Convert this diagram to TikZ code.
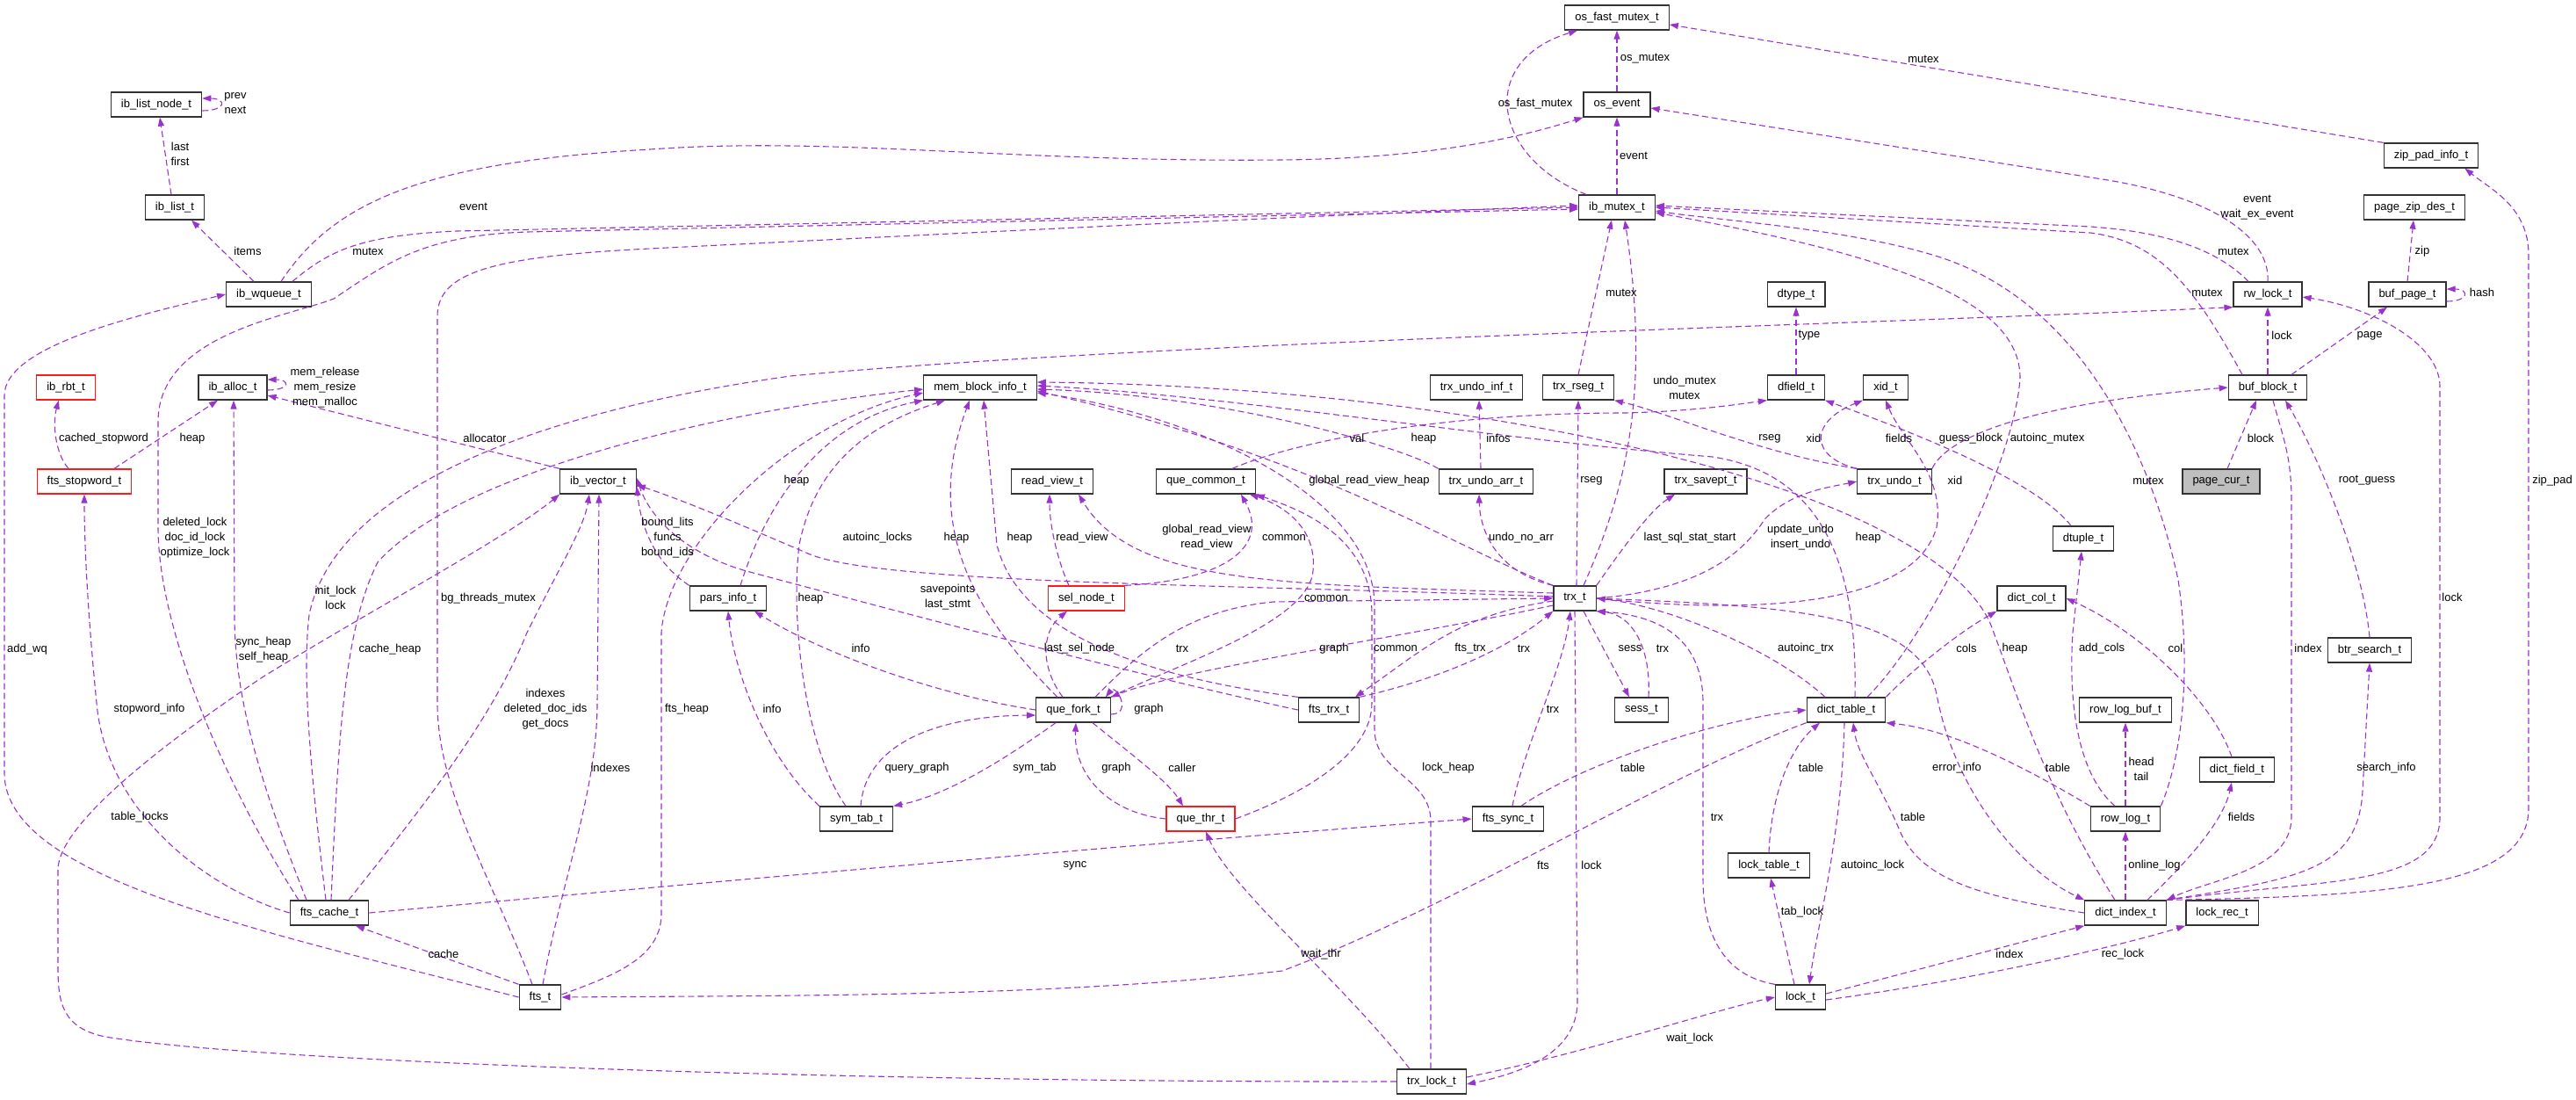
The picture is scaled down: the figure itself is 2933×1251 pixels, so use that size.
\documentclass[tikz,border=0pt]{standalone}
\usepackage{fontspec}
\setmainfont{Liberation Sans}
\usetikzlibrary{arrows.meta}
\definecolor{depline}{HTML}{9A32CD}

\begin{document}
\begin{tikzpicture}[
    x=1pt, y=-1pt,
    >={Triangle[length=10pt,width=7pt]},
    cls/.style={draw=black!80, line width=1.3pt, fill=white, minimum height=28pt, inner xsep=11.5pt, inner ysep=0pt, font=\fontsize{13}{16}\selectfont},
    hl/.style={cls, draw=red!90},
    root/.style={cls, fill=gray!50},
    dep/.style={->, draw=depline, line width=1.1pt, dash pattern=on 7pt off 4pt},
    lbl/.style={font=\fontsize{13}{17}\selectfont, inner sep=0pt, align=center},
]
\fill[white] (0,0) rectangle (2933,1251);
% === Classes ===
\node[cls] (lnode) at (178,119) {ib\_list\_node\_t};
\node[cls] (list) at (199,236) {ib\_list\_t};
\node[cls] (wq) at (306,335) {ib\_wqueue\_t};
\node[cls] (osfm) at (1841,20) {os\_fast\_mutex\_t};
\node[cls] (osev) at (1841,119) {os\_event};
\node[cls] (mtx) at (1841,236) {ib\_mutex\_t};
\node[cls] (dtype) at (2045,335) {dtype\_t};
\node[cls] (zpi) at (2768,177) {zip\_pad\_info\_t};
\node[cls] (pzd) at (2749,236) {page\_zip\_des\_t};
\node[cls] (rwl) at (2582,335) {rw\_lock\_t};
\node[cls] (bpage) at (2741,335) {buf\_page\_t};
\node[hl] (rbt) at (75,441) {ib\_rbt\_t};
\node[cls] (alloc) at (265,441) {ib\_alloc\_t};
\node[hl] (stop) at (96,548) {fts\_stopword\_t};
\node[cls] (vec) at (681,548) {ib\_vector\_t};
\node[cls] (mbi) at (1116,441) {mem\_block\_info\_t};
\node[cls] (rview) at (1198,548) {read\_view\_t};
\node[cls] (qcom) at (1373,548) {que\_common\_t};
\node[cls] (pinfo) at (829,681) {pars\_info\_t};
\node[hl] (sel) at (1237,681) {sel\_node\_t};
\node[cls] (qfork) at (1222,808) {que\_fork\_t};
\node[cls] (uinf) at (1681,441) {trx\_undo\_inf\_t};
\node[cls] (rseg) at (1797,441) {trx\_rseg\_t};
\node[cls] (dfield) at (2045,441) {dfield\_t};
\node[cls] (xid) at (2147,441) {xid\_t};
\node[cls] (uarr) at (1692,548) {trx\_undo\_arr\_t};
\node[cls] (savept) at (1942,548) {trx\_savept\_t};
\node[cls] (undo) at (2157,548) {trx\_undo\_t};
\node[cls] (trx) at (1793,681) {trx\_t};
\node[cls] (ftrx) at (1513,808) {fts\_trx\_t};
\node[cls] (sess) at (1869,808) {sess\_t};
\node[cls] (table) at (2102,808) {dict\_table\_t};
\node[cls] (block) at (2582,441) {buf\_block\_t};
\node[root] (pcur) at (2529,548) {page\_cur\_t};
\node[cls] (dtuple) at (2372,613) {dtuple\_t};
\node[cls] (dcol) at (2313,681) {dict\_col\_t};
\node[cls] (bsearch) at (2698,740) {btr\_search\_t};
\node[cls] (rlbuf) at (2420,808) {row\_log\_buf\_t};
\node[cls] (cache) at (375,1039) {fts\_cache\_t};
\node[cls] (fts) at (615,1135) {fts\_t};
\node[cls] (symtab) at (975,932) {sym\_tab\_t};
\node[hl] (qthr) at (1367,932) {que\_thr\_t};
\node[cls] (fsync) at (1717,932) {fts\_sync\_t};
\node[cls] (ltable) at (2014,985) {lock\_table\_t};
\node[cls] (lock) at (2050,1135) {lock\_t};
\node[cls] (tlock) at (1630,1231) {trx\_lock\_t};
\node[cls] (rlog) at (2420,932) {row\_log\_t};
\node[cls] (dfld) at (2547,876) {dict\_field\_t};
\node[cls] (index) at (2420,1039) {dict\_index\_t};
\node[cls] (lrec) at (2530,1039) {lock\_rec\_t};
% === Top: lists, queue, mutexes ===
\draw[dep] ([yshift=-7pt]lnode.east) .. controls +(28,0) and +(28,0) .. ([yshift=7pt]lnode.east);
\draw[dep] ([xshift=-4pt]list.north) -- ([xshift=4pt]lnode.south);
\draw[dep] ([xshift=-17pt]wq.north) -- ([xshift=19pt]list.south);
\draw[dep] ([xshift=14pt]wq.north) .. controls (380,230) and (480,185) .. (740,170) .. controls (950,155) and (1150,185) .. (1460,182) .. controls (1650,180) and (1750,150) .. (osev.south west);
\draw[dep] ([xshift=27pt]wq.north) .. controls (375,285) and (410,268) .. (520,263) -- (mtx.west);
\draw[dep] (mtx) -- (osev);
\draw[dep] (osev) -- (osfm);
\draw[dep] ([xshift=-35pt]mtx.north) .. controls (1700,180) and (1680,70) .. ([xshift=-45pt]osfm.south);
\draw[dep] (zpi.north west) -- ([yshift=-8pt]osfm.east);
\draw[dep] (rwl.north) .. controls (2585,270) and (2520,225) .. (2400,205) -- ([yshift=-4pt]osev.east);
\draw[dep] ([xshift=-22pt]rwl.north) .. controls (2530,290) and (2480,265) .. (2380,258) -- ([yshift=2pt]mtx.east);
\draw[dep] ([xshift=-29pt]block.north) .. controls (2500,330) and (2460,275) .. (2380,265) -- (mtx.east);
\draw[dep] (bpage.north) -- ([xshift=-1pt]pzd.south);
\draw[dep] ([yshift=-8pt]bpage.east) .. controls +(26,0) and +(26,0) .. ([yshift=6pt]bpage.east);
\draw[dep] (block) -- (rwl);
\draw[dep] ([xshift=27pt]block.north) -- ([xshift=-23pt]bpage.south);
\draw[dep] ([xshift=7pt]pcur.north) -- ([xshift=-13pt]block.south);
\draw[dep] (bsearch.north) .. controls (2690,640) and (2640,520) .. ([xshift=20pt]block.south);
\draw[dep] ([xshift=6pt]block.south) .. controls (2600,500) and (2609,520) .. (2609,570) -- (2609,930) .. controls (2609,990) and (2520,1000) .. (index.north east);
% === dict_index_t ===
\draw[dep] (index.north east) .. controls (2650,1000) and (2778,1010) .. (2778,930) -- (2778,440) .. controls (2778,390) and (2700,350) .. ([yshift=-3pt]rwl.east);
\draw[dep] (index.north east) .. controls (2720,1020) and (2879,1010) .. (2879,920) -- (2879,290) .. controls (2879,235) and (2835,215) .. ([xshift=-16pt]zpi.south east);
\draw[dep] (index.north east) .. controls (2620,1000) and (2685,990) .. (2690,900) -- (bsearch.south);
\draw[dep] ([xshift=25pt]index.north) .. controls (2480,990) and (2530,940) .. ([xshift=-6pt]dfld.south);
\draw[dep] (index) -- (rlog);
\draw[dep] (index.west) .. controls (2250,1020) and (2190,1000) .. (2165,950) .. controls (2140,890) and (2115,860) .. ([xshift=8pt]table.south);
\draw[dep] ([xshift=-12pt]index.north) .. controls (2330,900) and (2300,800) .. (2270,720) .. controls (2220,560) and (1700,440) .. ([yshift=6pt]mbi.east);
\draw[dep] (trx.east) .. controls (2050,690) and (2185,700) .. (2205,790) .. controls (2225,900) and (2300,990) .. (index.north west);
% === row_log_t, dict_field_t, lock_t ===
\draw[dep] (rlog) -- (rlbuf);
\draw[dep] ([xshift=-12pt]rlog.north) .. controls (2365,880) and (2355,800) .. (2360,720) -- ([xshift=-2pt]dtuple.south);
\draw[dep] (rlog.north west) .. controls (2300,870) and (2220,830) .. (table.south east);
\draw[dep] (rlog.north east) .. controls (2485,860) and (2495,760) .. (2480,660) .. controls (2450,520) and (2370,340) .. (2200,290) .. controls (2100,260) and (1950,250) .. ([yshift=-4pt]mtx.east);
\draw[dep] ([xshift=-6pt]dfld.north) .. controls (2520,800) and (2440,720) .. (dcol.east);
\draw[dep] ([yshift=4pt]lock.east) -- (index.south west);
\draw[dep] ([yshift=-3pt]lock.east) .. controls (2250,1115) and (2420,1075) .. (lrec.south west);
\draw[dep] ([yshift=5pt]tlock.east) .. controls (1800,1200) and (1950,1150) .. (lock.west);
\draw[dep] (trx.south) -- (1796,1140) .. controls (1796,1195) and (1740,1220) .. ([yshift=-3pt]tlock.east);
\draw[dep] ([xshift=-25pt]tlock.north) .. controls (1530,1120) and (1400,1010) .. ([xshift=6pt]qthr.south);
\draw[dep] ([xshift=-1pt]tlock.north) -- (1629,935) .. controls (1629,885) and (1565,880) .. (1565,830) -- (1565,690) .. controls (1565,560) and (1350,470) .. ([yshift=-6pt]mbi.east);
\draw[dep] (tlock.west) .. controls (1000,1232) and (300,1210) .. (120,1180) .. controls (70,1170) and (66,1140) .. (66,1100) -- (66,990) .. controls (66,940) and (180,850) .. (300,770) .. controls (430,690) and (580,610) .. (vec.south west);
\draw[dep] (lock.north west) .. controls (1960,1110) and (1939,1060) .. (1939,1000) -- (1939,800) .. controls (1939,720) and (1880,700) .. (trx.south east);
\draw[dep] ([xshift=-7pt]lock.north) -- ([xshift=2pt]ltable.south);
\draw[dep] (ltable.north) .. controls (2017,900) and (2040,850) .. ([xshift=-30pt]table.south);
% === dict_table_t ===
\draw[dep] ([xshift=-2pt]table.south) .. controls (2097,950) and (2070,1050) .. ([xshift=10pt]lock.north);
\draw[dep] (table.south west) .. controls (1900,880) and (1660,1030) .. (1460,1105) .. controls (1200,1135) and (900,1133) .. (fts.east);
\draw[dep] ([xshift=15pt]fsync.north) .. controls (1800,870) and (1950,820) .. (table.west);
\draw[dep] ([xshift=5pt]fsync.north) .. controls (1735,850) and (1780,760) .. ([xshift=-5pt]trx.south);
\draw[dep] ([xshift=-24pt]table.north) .. controls (2020,740) and (1900,690) .. (trx.east);
\draw[dep] ([xshift=24pt]table.north) .. controls (2200,720) and (2295,520) .. (2300,430) .. controls (2300,340) and (2150,290) .. ([yshift=-6pt]mtx.east);
\draw[dep] ([xshift=10pt]table.north) .. controls (2115,650) and (2080,540) .. (1950,520) .. controls (1700,500) and (1400,450) .. ([yshift=2pt]mbi.east);
\draw[dep] (table.north east) .. controls (2180,760) and (2230,720) .. (dcol.south west);
% === trx_undo_t, dtuple_t, dfield_t ===
\draw[dep] (undo.north west) .. controls (2000,515) and (1900,470) .. (rseg.south east);
\draw[dep] (undo.north west) .. controls (2060,520) and (2060,480) .. (xid.south west);
\draw[dep] (trx.east) .. controls (2000,700) and (2180,690) .. (2205,600) .. controls (2215,540) and (2165,500) .. (xid.south);
\draw[dep] (undo.north east) .. controls (2215,500) and (2300,460) .. (block.west);
\draw[dep] ([xshift=-14pt]dtuple.north) .. controls (2320,550) and (2200,500) .. (dfield.south east);
\draw[dep] (dfield) -- (dtype);
\draw[dep] ([xshift=30pt]qcom.north) .. controls (1480,500) and (1650,470) .. (1850,470) .. controls (1930,468) and (1980,460) .. (dfield.south west);
% === trx_t ===
\draw[dep] (trx.east) .. controls (1950,670) and (1990,620) .. (2010,590) .. controls (2040,560) and (2080,555) .. (undo.west);
\draw[dep] (trx.north east) .. controls (1850,620) and (1880,580) .. ([xshift=-35pt]savept.south);
\draw[dep] ([xshift=2pt]trx.north) -- (rseg.south);
\draw[dep] (rseg.north) -- ([xshift=-6pt]mtx.south);
\draw[dep] ([xshift=10pt]trx.north) .. controls (1850,560) and (1880,450) .. ([xshift=9pt]mtx.south);
\draw[dep] (trx.north west) .. controls (1700,650) and (1685,600) .. ([xshift=-8pt]uarr.south);
\draw[dep] ([xshift=-6pt]uarr.north) -- ([xshift=3pt]uinf.south);
\draw[dep] (uarr.north west) .. controls (1600,510) and (1400,450) .. ([yshift=-2pt]mbi.east);
\draw[dep] (trx.north west) .. controls (1650,620) and (1500,520) .. ([yshift=-4pt]mbi.east);
\draw[dep] ([yshift=-3pt]trx.west) .. controls (1660,700) and (1620,740) .. ([xshift=30pt]ftrx.north);
\draw[dep] (ftrx.north east) .. controls (1650,770) and (1720,735) .. (trx.south west);
\draw[dep] ([xshift=10pt]trx.south) -- ([xshift=-14pt]sess.north);
\draw[dep] ([xshift=8pt]sess.north) .. controls (1880,740) and (1860,700) .. (trx.south east);
\draw[dep] ([xshift=25pt]qfork.north) .. controls (1300,740) and (1350,695) .. (1450,685) -- (trx.west);
\draw[dep] ([yshift=-8pt]trx.west) .. controls (1600,725) and (1350,760) .. (qfork.north east);
\draw[dep] ([yshift=2pt]trx.west) .. controls (1400,665) and (1000,665) .. (920,630) .. controls (850,600) and (780,570) .. ([yshift=-4pt]vec.east);
\draw[dep] ([yshift=6pt]trx.west) .. controls (1450,665) and (1290,665) .. ([xshift=30pt]rview.south);
\draw[dep] (ftrx.west) .. controls (1300,770) and (1000,690) .. (850,650) .. controls (780,630) and (740,590) .. ([yshift=4pt]vec.east);
\draw[dep] (ftrx.north west) .. controls (1300,770) and (1160,720) .. (1135,620) -- ([xshift=4pt]mbi.south);
% === query graph ===
\draw[dep] ([xshift=-20pt]sel.north) .. controls (1205,640) and (1195,600) .. ([xshift=-3pt]rview.south);
\draw[dep] (sel.north east) .. controls (1400,660) and (1445,620) .. ([xshift=40pt]qcom.south);
\draw[dep] (qthr.east) .. controls (1480,905) and (1562,860) .. (1562,800) -- (1562,700) .. controls (1562,610) and (1480,580) .. (qcom.south east);
\draw[dep] (qfork.north east) .. controls (1330,760) and (1490,710) .. (1495,650) .. controls (1500,600) and (1460,575) .. ([xshift=50pt]qcom.south);
\draw[dep] ([yshift=-5pt]qfork.east) .. controls +(25,0) and +(12,-15) .. ([xshift=-6pt]qfork.north east);
\draw[dep] (qfork.west) .. controls (1060,790) and (930,740) .. ([xshift=30pt]pinfo.south);
\draw[dep] ([xshift=-12pt]qfork.north) .. controls (1185,760) and (1185,720) .. ([xshift=-22pt]sel.south);
\draw[dep] ([xshift=-18pt]qfork.north) .. controls (1110,700) and (1050,600) .. ([xshift=-12pt]mbi.south);
\draw[dep] ([xshift=-12pt]symtab.north) .. controls (915,850) and (900,700) .. (910,620) .. controls (930,520) and (1000,480) .. ([xshift=-40pt]mbi.south);
\draw[dep] (symtab.north west) .. controls (870,860) and (835,760) .. (pinfo.south);
\draw[dep] ([xshift=5pt]symtab.north) .. controls (985,850) and (1060,815) .. ([yshift=-6pt]qfork.west);
\draw[dep] ([xshift=-20pt]qfork.south) .. controls (1150,860) and (1080,905) .. (symtab.north east);
\draw[dep] (qthr.west) .. controls (1260,925) and (1222,880) .. ([xshift=3pt]qfork.south);
\draw[dep] ([xshift=22pt]qfork.south) .. controls (1290,860) and (1330,890) .. ([xshift=-20pt]qthr.north);
\draw[dep] ([xshift=14pt]pinfo.north) .. controls (870,580) and (930,480) .. (mbi.south west);
\draw[dep] (pinfo.north west) .. controls (745,640) and (730,600) .. ([yshift=-6pt]vec.east);
% === Left: fts, allocators ===
\draw[dep] ([xshift=-18pt]stop.north) .. controls (62,515) and (60,480) .. ([xshift=-8pt]rbt.south);
\draw[dep] ([xshift=34pt]stop.north) -- ([xshift=-17pt]alloc.south);
\draw[dep] ([yshift=-3pt]alloc.east) .. controls +(26,0) and +(26,0) .. ([yshift=9pt]alloc.east);
\draw[dep] (vec.north west) -- ([yshift=-9pt]alloc.east);
\draw[dep] (cache.west) .. controls (230,1010) and (120,920) .. (110,800) .. controls (100,700) and (96,620) .. (stop.south);
\draw[dep] ([xshift=-26pt]cache.north) .. controls (300,900) and (267,800) .. (267,700) -- ([xshift=1pt]alloc.south);
\draw[dep] ([xshift=-35pt]cache.north) .. controls (260,900) and (180,720) .. (180,600) -- (180,480) .. controls (180,380) and (330,360) .. (380,340) .. controls (440,300) and (480,268) .. (600,264) -- ([yshift=-2pt]mtx.west);
\draw[dep] ([xshift=-4pt]cache.north) .. controls (350,850) and (345,760) .. (352,700) .. controls (380,560) and (600,470) .. (900,428) .. controls (1300,390) and (2100,370) .. (rwl.south west);
\draw[dep] ([xshift=2pt]cache.north) .. controls (385,850) and (390,720) .. (430,640) .. controls (520,540) and (800,470) .. ([yshift=-2pt]mbi.west);
\draw[dep] ([xshift=22pt]cache.north) .. controls (480,920) and (560,820) .. (600,720) .. controls (640,640) and (665,600) .. ([xshift=-10pt]vec.south);
\draw[dep] (cache.east) .. controls (800,1005) and (1300,960) .. (fsync.west);
\draw[dep] (fts.north west) -- ([xshift=30pt]cache.south);
\draw[dep] ([xshift=3pt]fts.north) .. controls (640,1000) and (680,900) .. (680,800) -- ([xshift=1pt]vec.south);
\draw[dep] ([xshift=-9pt]fts.north) .. controls (560,1000) and (498,900) .. (498,800) -- (498,360) .. controls (498,310) and (560,292) .. (740,283) .. controls (1100,265) and (1500,245) .. ([yshift=2pt]mtx.west);
\draw[dep] (fts.west) .. controls (300,1060) and (5,1000) .. (5,880) -- (5,450) .. controls (5,395) and (150,360) .. (wq.west);
\draw[dep] ([yshift=3pt]fts.east) .. controls (700,1110) and (753,1090) .. (753,1040) -- (753,720) .. controls (760,620) and (900,480) .. ([yshift=-6pt]mbi.west);
% === Labels ===
\node[lbl] (l-prevnext) at (268,118) {prev\\next};
\node[lbl] (l-lastfirst) at (205,175) {last\\first};
\node[lbl] (l-items) at (282,286) {items};
\node[lbl] (l-wqevent) at (539,235) {event};
\node[lbl] (l-wqmutex) at (419,286) {mutex};
\node[lbl] (l-osmutex) at (1873,67) {os\_mutex};
\node[lbl] (l-osfast) at (1748,118) {os\_fast\_mutex};
\node[lbl] (l-mtxevent) at (1860,177) {event};
\node[lbl] (l-zpimutex) at (2190,67) {mutex};
\node[lbl] (l-rwlevent) at (2570,236) {event\\wait\_ex\_event};
\node[lbl] (l-rwlmutex) at (2543,286) {mutex};
\node[lbl] (l-zip) at (2758,286) {zip};
\node[lbl] (l-hash) at (2826,333) {hash};
\node[lbl] (l-blocklock) at (2598,382) {lock};
\node[lbl] (l-page) at (2698,382) {page};
\node[lbl] (l-blockmutex) at (2513,333) {mutex};
\node[lbl] (l-rsegmutex) at (1846,333) {mutex};
\node[lbl] (l-type) at (2060,382) {type};
\node[lbl] (l-zippad) at (2906,547) {zip\_pad};
\node[lbl] (l-memops) at (370,441) {mem\_release\\mem\_resize\\mem\_malloc};
\node[lbl] (l-cachedstop) at (118,499) {cached\_stopword};
\node[lbl] (l-stopheap) at (219,499) {heap};
\node[lbl] (l-allocator) at (552,499) {allocator};
\node[lbl] (l-pinfoheap) at (907,547) {heap};
\node[lbl] (l-val) at (1545,499) {val};
\node[lbl] (l-uarrheap) at (1621,499) {heap};
\node[lbl] (l-infos) at (1706,499) {infos};
\node[lbl] (l-undomutex) at (1918,441) {undo\_mutex\\mutex};
\node[lbl] (l-undorseg) at (2015,499) {rseg};
\node[lbl] (l-undoxid) at (2065,499) {xid};
\node[lbl] (l-tuplefields) at (2162,499) {fields};
\node[lbl] (l-guess) at (2244,499) {guess\_block};
\node[lbl] (l-autoincmutex) at (2331,499) {autoinc\_mutex};
\node[lbl] (l-block) at (2574,499) {block};
\node[lbl] (l-grvheap) at (1559,547) {global\_read\_view\_heap};
\node[lbl] (l-trxrseg) at (1812,547) {rseg};
\node[lbl] (l-trxxid) at (2226,547) {xid};
\node[lbl] (l-rlogmutex) at (2446,547) {mutex};
\node[lbl] (l-rootguess) at (2695,547) {root\_guess};
\node[lbl] (l-cachelocks) at (222,612) {deleted\_lock\\doc\_id\_lock\\optimize\_lock};
\node[lbl] (l-bound) at (760,612) {bound\_lits\\funcs\\bound\_ids};
\node[lbl] (l-autoinclocks) at (999,612) {autoinc\_locks};
\node[lbl] (l-forkheap) at (1089,612) {heap};
\node[lbl] (l-ftrxheap) at (1161,612) {heap};
\node[lbl] (l-selview) at (1232,612) {read\_view};
\node[lbl] (l-trxview) at (1374,612) {global\_read\_view\\read\_view};
\node[lbl] (l-selcommon) at (1462,612) {common};
\node[lbl] (l-undonoarr) at (1732,612) {undo\_no\_arr};
\node[lbl] (l-lastsql) at (1924,612) {last\_sql\_stat\_start};
\node[lbl] (l-undos) at (2050,612) {update\_undo\\insert\_undo};
\node[lbl] (l-tableheap) at (2127,612) {heap};
\node[lbl] (l-initlock) at (382,680) {init\_lock\\lock};
\node[lbl] (l-bgmutex) at (556,681) {bg\_threads\_mutex};
\node[lbl] (l-symheap) at (923,681) {heap};
\node[lbl] (l-savepoints) at (1079,680) {savepoints\\last\_stmt};
\node[lbl] (l-forkcommon) at (1510,681) {common};
\node[lbl] (l-indexlock) at (2792,680) {lock};
\node[lbl] (l-addwq) at (31,739) {add\_wq};
\node[lbl] (l-syncheap) at (300,740) {sync\_heap\\self\_heap};
\node[lbl] (l-cacheheap) at (444,739) {cache\_heap};
\node[lbl] (l-forkinfo) at (980,738) {info};
\node[lbl] (l-lastsel) at (1229,738) {last\_sel\_node};
\node[lbl] (l-forktrx) at (1346,738) {trx};
\node[lbl] (l-trxgraph) at (1519,738) {graph};
\node[lbl] (l-thrcommon) at (1589,738) {common};
\node[lbl] (l-ftstrx) at (1674,738) {fts\_trx};
\node[lbl] (l-ftrxtrx) at (1735,738) {trx};
\node[lbl] (l-sess) at (1856,738) {sess};
\node[lbl] (l-sesstrx) at (1893,738) {trx};
\node[lbl] (l-autoinctrx) at (2056,738) {autoinc\_trx};
\node[lbl] (l-cols) at (2239,738) {cols};
\node[lbl] (l-indexheap) at (2294,738) {heap};
\node[lbl] (l-addcols) at (2393,738) {add\_cols};
\node[lbl] (l-col) at (2477,738) {col};
\node[lbl] (l-blockindex) at (2628,738) {index};
\node[lbl] (l-cachevecs) at (621,807) {indexes\\deleted\_doc\_ids\\get\_docs};
\node[lbl] (l-stopinfo) at (170,807) {stopword\_info};
\node[lbl] (l-ftsheap) at (782,807) {fts\_heap};
\node[lbl] (l-syminfo) at (879,807) {info};
\node[lbl] (l-forkgraph) at (1308,807) {graph};
\node[lbl] (l-synctrx) at (1768,807) {trx};
\node[lbl] (l-querygraph) at (1044,874) {query\_graph};
\node[lbl] (l-symtab) at (1178,874) {sym\_tab};
\node[lbl] (l-thrgraph) at (1271,874) {graph};
\node[lbl] (l-caller) at (1346,874) {caller};
\node[lbl] (l-lockheap) at (1649,874) {lock\_heap};
\node[lbl] (l-synctable) at (1859,874) {table};
\node[lbl] (l-ltable) at (2062,874) {table};
\node[lbl] (l-errorinfo) at (2228,874) {error\_info};
\node[lbl] (l-rlogtable) at (2343,874) {table};
\node[lbl] (l-headtail) at (2438,875) {head\\tail};
\node[lbl] (l-searchinfo) at (2717,874) {search\_info};
\node[lbl] (l-ftsindexes) at (695,874) {indexes};
\node[lbl] (l-tablelocks) at (159,930) {table\_locks};
\node[lbl] (l-locktrx) at (1955,930) {trx};
\node[lbl] (l-indextable) at (2178,930) {table};
\node[lbl] (l-indexfields) at (2552,930) {fields};
\node[lbl] (l-sync) at (1224,985) {sync};
\node[lbl] (l-fts) at (1757,985) {fts};
\node[lbl] (l-trxlock) at (1812,985) {lock};
\node[lbl] (l-autoinclock) at (2132,985) {autoinc\_lock};
\node[lbl] (l-onlinelog) at (2453,985) {online\_log};
\node[lbl] (l-tablock) at (2052,1038) {tab\_lock};
\node[lbl] (l-cache) at (505,1086) {cache};
\node[lbl] (l-waitthr) at (1504,1086) {wait\_thr};
\node[lbl] (l-index) at (2288,1086) {index};
\node[lbl] (l-reclock) at (2417,1086) {rec\_lock};
\node[lbl] (l-waitlock) at (1924,1182) {wait\_lock};
\end{tikzpicture}
\end{document}
